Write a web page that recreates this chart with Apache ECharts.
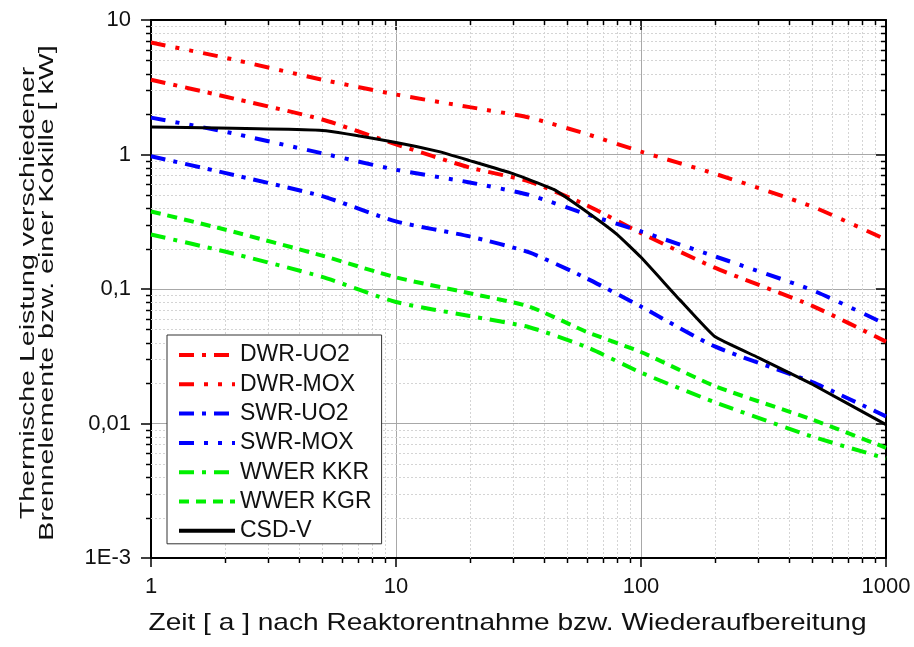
<!DOCTYPE html>
<html>
<head>
<meta charset="utf-8">
<script src="https://cdn.jsdelivr.net/npm/echarts@6/dist/echarts.min.js"></script>
<style>
  html, body { margin: 0; padding: 0; background: #fff; }
  #chart { width: 914px; height: 647px; }
</style>
</head>
<body>
<div id="chart"></div>
<script>
// Time after discharge / reprocessing in years
const years = [1, 2, 5, 10, 20, 35, 60, 100, 200, 500, 1000];

// Thermal power per fuel assembly [kW]
const dwrUO2 = [3.6, 2.7, 1.82, 1.19, 0.8, 0.63, 0.42, 0.26, 0.144, 0.075, 0.0406];
const dwrMOX = [6.8, 5.25, 3.6, 2.79, 2.25, 1.88, 1.42, 1.05, 0.72, 0.41, 0.233];
const swrUO2 = [0.97, 0.73, 0.49, 0.318, 0.246, 0.187, 0.12, 0.074, 0.0374, 0.0203, 0.0113];
const swrMOX = [1.88, 1.48, 1.02, 0.77, 0.62, 0.5, 0.36, 0.268, 0.175, 0.098, 0.0546];
const wwerKKR = [0.254, 0.19, 0.123, 0.08, 0.063, 0.052, 0.037, 0.0239, 0.0144, 0.008, 0.0055];
const wwerKGR = [0.377, 0.277, 0.177, 0.122, 0.093, 0.074, 0.048, 0.034, 0.019, 0.0107, 0.0066];

// Vitrified waste canister (CSD-V) [kW]
const csdYears = [1, 5, 10, 15, 20, 30, 44, 62, 80, 100, 144, 200, 300, 500, 1000];
const csdV = [1.6, 1.51, 1.23, 1.05, 0.9, 0.72, 0.55, 0.36, 0.254, 0.172, 0.083, 0.0443, 0.031, 0.0196, 0.0098];

// Axis tick labels
const xTickValues = [1, 10, 100, 1000];
const xTickLabels = ['1', '10', '100', '1000'];
const yTickValues = [0.001, 0.01, 0.1, 1, 10];
const yTickLabels = ['1E-3', '0,01', '0,1', '1', '10'];

// Axis titles
const xTitle = 'Zeit [ a ] nach Reaktorentnahme bzw. Wiederaufbereitung';
const yTitle = 'Thermische Leistung verschiedener\nBrennelemente bzw. einer Kokille [ kW]';

const FONT = '"Liberation Sans", Arial, sans-serif';

function pairs(xs, ys) { return xs.map((x, i) => [x, ys[i]]); }
function labelFor(values, labels, v) {
  let best = 0;
  values.forEach((t, i) => {
    if (Math.abs(Math.log10(t) - Math.log10(v)) < Math.abs(Math.log10(values[best]) - Math.log10(v))) best = i;
  });
  return labels[best];
}

// Minor (2..9 per decade) grid positions
const minorLines = [];
[1, 10, 100].forEach(d => { for (let k = 2; k <= 9; k++) minorLines.push([k * d, 1, 0]); });
[0.001, 0.01, 0.1, 1].forEach(d => { for (let k = 2; k <= 9; k++) minorLines.push([1, k * d, 1]); });

const dashDot = [15, 8, 4, 8];
const dashDotDot = [15, 10, 4, 10, 4, 10];
const dashed = [10, 7];

function lineSeries(name, xs, ys, color, type, width, smooth) {
  return {
    name: name,
    type: 'line',
    data: pairs(xs, ys),
    symbol: 'none',
    smooth: smooth,
    z: 3,
    lineStyle: { color: color, width: width, type: type, cap: 'butt' },
    itemStyle: { color: color }
  };
}

const chart = echarts.init(document.getElementById('chart'), null, { renderer: 'canvas' });

const axisLineStyle = { color: '#000', width: 2 };

chart.setOption({
  animation: false,
  backgroundColor: '#fff',
  grid: { left: 151, right: 28, top: 20, bottom: 89, containLabel: false },
  legend: {
    orient: 'vertical',
    left: 167,
    top: 335,
    data: ['DWR-UO2', 'DWR-MOX', 'SWR-UO2', 'SWR-MOX', 'WWER KKR', 'WWER KGR', 'CSD-V'],
    itemWidth: 56,
    itemHeight: 14,
    itemGap: 6.3,
    padding: [8.5, 10, 1.5, 10],
    borderColor: '#333',
    borderWidth: 1,
    backgroundColor: '#fff',
    itemStyle: { opacity: 0 },
    lineStyle: { width: 4 },
    textStyle: { fontFamily: FONT, fontSize: 23, color: '#111' },
    z: 10
  },
  graphic: [
    {
      type: 'text',
      x: 507.5, y: 623,
      scaleX: 1.17,
      silent: true,
      style: {
        text: xTitle, fontFamily: FONT, fontSize: 24, fill: '#111',
        align: 'center', verticalAlign: 'middle'
      }
    },
    {
      type: 'text',
      x: 37.5, y: 293,
      rotation: Math.PI / 2,
      scaleX: 1.36,
      silent: true,
      style: {
        text: yTitle, fontFamily: FONT, fontSize: 21, lineHeight: 19.5, fill: '#111',
        align: 'center', verticalAlign: 'middle'
      }
    }
  ],
  xAxis: [
    {
      type: 'log', logBase: 10, min: 1, max: 1000, position: 'bottom',
      axisLine: { lineStyle: axisLineStyle },
      axisTick: { inside: false, length: 9, lineStyle: { color: '#000', width: 1.5 } },
      axisLabel: {
        fontFamily: FONT, fontSize: 22, color: '#111', margin: 18,
        formatter: v => labelFor(xTickValues, xTickLabels, v)
      },
      splitLine: { show: true, lineStyle: { color: '#a8a8a8', width: 1 } }
    },
    {
      type: 'log', logBase: 10, min: 1, max: 1000, position: 'top',
      axisLine: { lineStyle: axisLineStyle },
      axisTick: { inside: true, length: 10, lineStyle: { color: '#000', width: 1.5 } },
      axisLabel: { show: false },
      splitLine: { show: false }
    }
  ],
  yAxis: [
    {
      type: 'log', logBase: 10, min: 0.001, max: 10, position: 'left',
      axisLine: { lineStyle: axisLineStyle },
      axisTick: { inside: false, length: 10, lineStyle: { color: '#000', width: 1.5 } },
      axisLabel: {
        fontFamily: FONT, fontSize: 22, color: '#111', margin: 20,
        formatter: v => labelFor(yTickValues, yTickLabels, v)
      },
      splitLine: { show: true, lineStyle: { color: '#a8a8a8', width: 1 } }
    },
    {
      type: 'log', logBase: 10, min: 0.001, max: 10, position: 'right',
      axisLine: { lineStyle: axisLineStyle },
      axisTick: { inside: true, length: 10, lineStyle: { color: '#000', width: 1.5 } },
      axisLabel: { show: false },
      splitLine: { show: false }
    }
  ],
  series: [
    {
      // minor grid lines and minor ticks on all four sides
      type: 'custom',
      name: 'minor',
      silent: true,
      clip: false,
      z: 1,
      xAxisIndex: 0,
      yAxisIndex: 0,
      encode: { x: 0, y: 1 },
      data: minorLines,
      renderItem: function (params, api) {
        const cs = params.coordSys;
        const left = cs.x, top = cs.y, right = cs.x + cs.width, bottom = cs.y + cs.height;
        const vertical = api.value(2) === 0;
        const p = api.coord([api.value(0), api.value(1)]);
        const grid = { stroke: '#d4d4d4', lineWidth: 1, lineDash: [2, 2] };
        const tick = { stroke: '#000', lineWidth: 1.5 };
        if (vertical) {
          const x = Math.round(p[0]) + 0.5;
          return {
            type: 'group',
            children: [
              { type: 'line', shape: { x1: x, y1: top, x2: x, y2: bottom }, style: grid },
              { type: 'line', shape: { x1: x, y1: bottom, x2: x, y2: bottom + 5 }, style: tick },
              { type: 'line', shape: { x1: x, y1: top, x2: x, y2: top + 5 }, style: tick }
            ]
          };
        }
        const y = Math.round(p[1]) + 0.5;
        return {
          type: 'group',
          children: [
            { type: 'line', shape: { x1: left, y1: y, x2: right, y2: y }, style: grid },
            { type: 'line', shape: { x1: left - 5, y1: y, x2: left, y2: y }, style: tick },
            { type: 'line', shape: { x1: right - 5, y1: y, x2: right, y2: y }, style: tick }
          ]
        };
      }
    },
    lineSeries('DWR-UO2', years, dwrUO2, '#ff0000', dashDot, 4, 0.2),
    lineSeries('DWR-MOX', years, dwrMOX, '#ff0000', dashDotDot, 4, 0.2),
    lineSeries('SWR-UO2', years, swrUO2, '#0000ff', dashDot, 4, 0.2),
    lineSeries('SWR-MOX', years, swrMOX, '#0000ff', dashDotDot, 4, 0.2),
    lineSeries('WWER KKR', years, wwerKKR, '#00f000', dashDot, 4, 0.2),
    lineSeries('WWER KGR', years, wwerKGR, '#00f000', dashed, 4, 0.2),
    lineSeries('CSD-V', csdYears, csdV, '#000000', 'solid', 3, 0.12)
  ]
});
</script>
</body>
</html>
